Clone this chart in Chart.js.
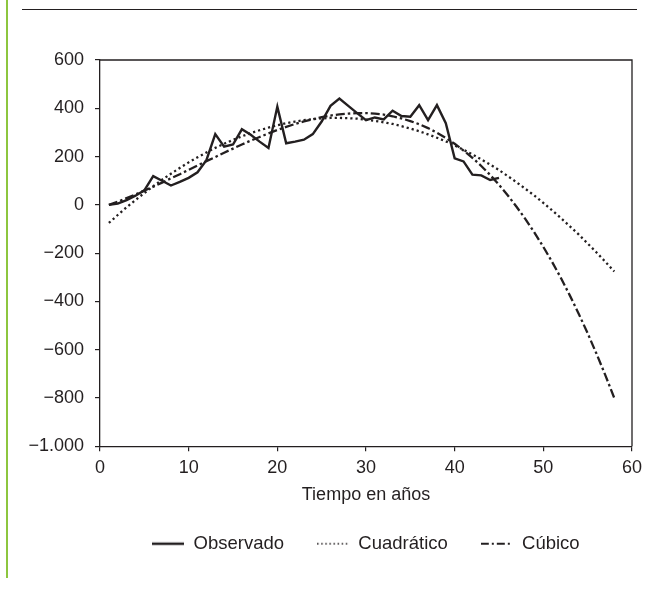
<!DOCTYPE html>
<html><head><meta charset="utf-8">
<script src="https://cdn.jsdelivr.net/npm/chart.js@4.4.1/dist/chart.umd.min.js"></script>
<style>html,body{margin:0;padding:0;background:#fff;} #wrap{position:relative;width:659px;height:591px;}</style>
</head><body><div id="wrap"><canvas id="c" width="659" height="591"></canvas></div>
<script>
// Observed series (years 1..45)
const obsYears = [1,2,3,4,5,6,7,8,9,10,11,12,13,14,15,16,17,18,19,20,21,22,23,24,25,26,27,28,29,30,31,32,33,34,35,36,37,38,39,40,41,42,43,44,45];
const observed = [0,5,20,38,60,119,100,80,95,112,135,185,293,241,250,313,290,262,236,407,255,262,270,293,345,410,440,410,380,351,362,354,390,368,365,413,351,413,338,193,180,125,122,103,112];
// Fitted curves (years 1..58)
const fitYears = [1,2,3,4,5,6,7,8,9,10,11,12,13,14,15,16,17,18,19,20,21,22,23,24,25,26,27,28,29,30,31,32,33,34,35,36,37,38,39,40,41,42,43,44,45,46,47,48,49,50,51,52,53,54,55,56,57,58];
const quadratic = [-75,-42,-10,20,49,77,104,129,153,176,197,217,236,253,269,284,297,309,320,330,338,345,351,355,358,360,360,359,357,353,348,342,335,326,316,305,292,278,263,246,228,209,188,167,144,119,93,66,38,8,-23,-55,-89,-123,-160,-197,-236,-276];
const cubic = [0,13,28,43,59,75,92,110,127,145,163,181,198,216,233,250,266,281,296,310,323,335,346,355,363,370,375,378,380,380,378,374,367,358,347,334,318,299,277,253,225,195,161,124,83,39,-9,-60,-115,-174,-237,-304,-376,-452,-532,-617,-706,-800];
const seriesNames = ['Observado','Cuadrático','Cúbico'];
const xTitle = 'Tiempo en años';
const yTicks = [-1000,-800,-600,-400,-200,0,200,400,600];

const ink = '#231f20';
const FONT = "'Liberation Sans', Arial, Helvetica, sans-serif";
const font = {family: FONT, size: 18};
const legendFont = {family: FONT, size: 18.5};

function pts(xs, ys){ return xs.map((x,i)=>({x:x, y:ys[i]})); }
function fmt(v){
  const a = Math.abs(v);
  const s = a >= 1000 ? Math.floor(a/1000) + '.' + String(a%1000).padStart(3,'0') : String(a);
  return (v < 0 ? '\u2212' : '') + s;
}

// legend sample images (line styles)
const sampleStyles = [
  {w: 2.5, dash: []},
  {w: 1.6, dash: [1.5, 2.6]},
  {w: 2.2, dash: [8, 3, 2, 3]}
];
const samples = sampleStyles.map(st => {
  const cv = document.createElement('canvas');
  cv.width = 32; cv.height = 6;
  const g = cv.getContext('2d');
  g.strokeStyle = ink; g.lineWidth = st.w; g.setLineDash(st.dash);
  g.beginPath(); g.moveTo(0, 3); g.lineTo(32, 3); g.stroke();
  return cv;
});

const decor = {
  id: 'decor',
  afterLayout(chart){
    const lg = chart.legend, a = chart.chartArea;
    if (lg && a){
      lg.left = a.left; lg.right = a.right; lg.width = a.right - a.left;
      lg.top -= 4; lg.bottom -= 4;
    }
  },
  beforeDraw(chart){
    const ctx = chart.ctx;
    ctx.save();
    ctx.fillStyle = '#fff';
    ctx.fillRect(0,0,chart.width,chart.height);
    ctx.strokeStyle = '#8dc63f';
    ctx.lineWidth = 2;
    ctx.beginPath(); ctx.moveTo(7,0); ctx.lineTo(7,578); ctx.stroke();
    ctx.strokeStyle = ink;
    ctx.lineWidth = 1.2;
    ctx.beginPath(); ctx.moveTo(22,9.5); ctx.lineTo(637,9.5); ctx.stroke();
    ctx.restore();
  },
  afterDraw(chart){
    const ctx = chart.ctx, a = chart.chartArea;
    ctx.save();
    ctx.strokeStyle = ink;
    ctx.lineWidth = 1.3;
    ctx.beginPath();
    ctx.moveTo(a.left, a.top); ctx.lineTo(a.right, a.top); ctx.lineTo(a.right, a.bottom);
    ctx.stroke();
    ctx.restore();
  }
};

new Chart(document.getElementById('c'), {
  type: 'line',
  data: {
    datasets: [
      {label: seriesNames[0], data: pts(obsYears, observed), borderColor: ink, borderWidth: 2.4, tension: 0, pointRadius: 0, fill: false},
      {label: seriesNames[1], data: pts(fitYears, quadratic), borderColor: ink, borderWidth: 2.3, borderDash: [2.2,3], tension: 0, pointRadius: 0, fill: false},
      {label: seriesNames[2], data: pts(fitYears, cubic), borderColor: ink, borderWidth: 2.3, borderDash: [9,3,2.5,3], tension: 0, pointRadius: 0, fill: false}
    ]
  },
  options: {
    responsive: false,
    animation: false,
    layout: {padding: {left: 0, top: 60, right: 27, bottom: 24}},
    plugins: {
      tooltip: {enabled: false},
      legend: {
        position: 'bottom',
        labels: {
          usePointStyle: true, pointStyleWidth: 32, font: legendFont, color: ink, padding: 33,
          generateLabels: chart => Chart.defaults.plugins.legend.labels.generateLabels(chart)
            .map((it, i) => Object.assign(it, {pointStyle: samples[i]}))
        }
      }
    },
    scales: {
      x: {
        type: 'linear', min: 0, max: 60,
        afterFit: s => { s.height = s.height - 6; },
        ticks: {stepSize: 10, font: font, color: ink, padding: 6},
        grid: {display: true, drawOnChartArea: false, drawTicks: true, tickLength: 5, color: ink, lineWidth: 1.2},
        border: {display: true, color: ink, width: 1.3},
        title: {display: true, text: xTitle, font: font, color: ink, padding: {top: 5, bottom: 0}}
      },
      y: {
        type: 'linear', min: yTicks[0], max: yTicks[yTicks.length-1],
        afterBuildTicks: s => { s.ticks = yTicks.map(v => ({value: v})); },
        afterFit: s => { s.width = 100; },
        ticks: {font: font, color: ink, padding: 11, callback: v => fmt(v)},
        grid: {display: true, drawOnChartArea: false, drawTicks: true, tickLength: 5, color: ink, lineWidth: 1.2},
        border: {display: true, color: ink, width: 1.3}
      }
    }
  },
  plugins: [decor]
});
</script>
</body></html>
